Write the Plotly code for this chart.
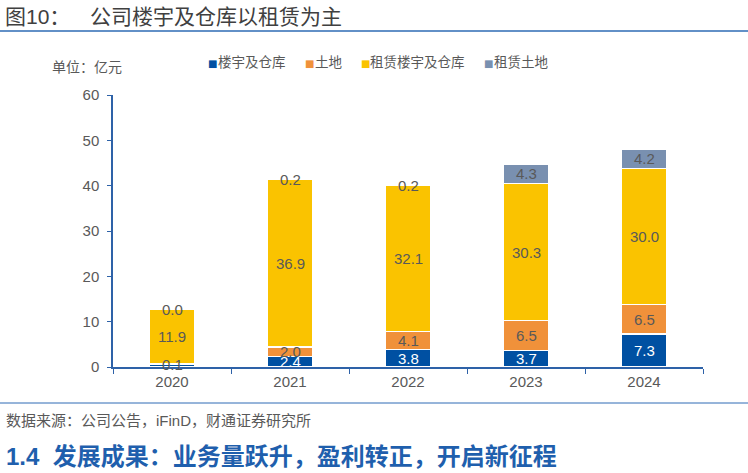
import plotly.graph_objects as go

years = ["2020", "2021", "2022", "2023", "2024"]
building = [0.6, 2.4, 3.8, 3.7, 7.3]
show_building_lbl = [False, True, True, True, True]
land = [0.1, 2.0, 4.1, 6.5, 6.5]
lease_building = [11.9, 36.9, 32.1, 30.3, 30.0]
lease_land = [0.0, 0.2, 0.2, 4.3, 4.2]

names = ["楼宇及仓库", "土地", "租赁楼宇及仓库", "租赁土地"]
colors = ["#0050A2", "#F0913A", "#FAC300", "#7990B0"]
series = [building, land, lease_building, lease_land]
show_lbl = [show_building_lbl, [True] * 5, [True] * 5, [True] * 5]
txtcolors = ["#FFFFFF", "#595959", "#595959", "#595959"]

FONT = "Liberation Sans, Arial, Noto Sans CJK SC"

fig = go.Figure()
for n, c, s in zip(names, colors, series):
    fig.add_trace(go.Bar(
        x=years, y=s, name=n, marker=dict(color=c, line=dict(color="white", width=1.2)),
        hoverinfo="skip", showlegend=False))

# data labels, centred on each stacked segment (x given as category index)
base = [0.0] * len(years)
for s, sl, tc in zip(series, show_lbl, txtcolors):
    for j, v in enumerate(s):
        if sl[j]:
            fig.add_annotation(x=j, y=base[j] + v / 2, xref="x", yref="y", text=f"{v:.1f}",
                               showarrow=False, font=dict(size=15, color=tc, family=FONT))
        base[j] += v

L, T, W, H = 113, 95, 590, 272
def px(x): return (x - L) / W
def py(y): return (T + H - y) / H

fig.update_layout(
    barmode="stack", bargap=0.61,
    width=748, height=473, autosize=False,
    margin=dict(l=L, r=748 - L - W, t=T, b=473 - T - H),
    paper_bgcolor="white", plot_bgcolor="white",
    font=dict(family=FONT, color="#595959", size=13),
    showlegend=False,
    xaxis=dict(type="category", range=[-0.5, len(years) - 0.5], showline=True,
               linecolor="#2E62A8", linewidth=1.5, ticks="outside",
               tickcolor="#2E62A8", ticklen=5, tickson="boundaries",
               tickfont=dict(size=15, color="#595959"), showgrid=False),
    yaxis=dict(range=[0, 60], dtick=10, showline=True, linecolor="#2E62A8", linewidth=1.5,
               ticks="outside", tickcolor="#2E62A8", ticklen=4, showgrid=False,
               ticklabelstandoff=5,
               zeroline=False, tickfont=dict(size=15, color="#595959")),
)

# legend (drawn as text)
leg_sq_x = [207, 304, 360, 483]
leg_tx_x = [216, 313, 368, 492]
for n, c, sx, tx in zip(names, colors, leg_sq_x, leg_tx_x):
    fig.add_annotation(text="■", x=px(sx - 1), y=py(64), xref="paper", yref="paper",
                       xanchor="left", yanchor="middle", showarrow=False,
                       font=dict(size=10, color=c, family="DejaVu Sans"))
    fig.add_annotation(text=n, x=px(tx), y=py(63), xref="paper", yref="paper",
                       xanchor="left", yanchor="middle", showarrow=False,
                       font=dict(size=13.5, color="#595959"))

fig.add_annotation(text="图10：", x=px(3), y=py(17), xref="paper", yref="paper",
                   xanchor="left", yanchor="middle", showarrow=False,
                   font=dict(size=21, color="#404040"))
fig.add_annotation(text="公司楼宇及仓库以租赁为主", x=px(88), y=py(17), xref="paper", yref="paper",
                   xanchor="left", yanchor="middle", showarrow=False,
                   font=dict(size=21, color="#404040"))
fig.add_annotation(text="单位：亿元", x=px(50), y=py(67), xref="paper", yref="paper",
                   xanchor="left", yanchor="middle", showarrow=False,
                   font=dict(size=14, color="#595959"))
fig.add_annotation(text="数据来源：公司公告，iFinD，财通证券研究所", x=px(4), y=py(420),
                   xref="paper", yref="paper", xanchor="left", yanchor="middle", showarrow=False,
                   font=dict(size=15, color="#595959"))
fig.add_annotation(text="<b>1.4  发展成果：业务量跃升，盈利转正，开启新征程</b>", x=px(4), y=py(456),
                   xref="paper", yref="paper", xanchor="left", yanchor="middle", showarrow=False,
                   font=dict(size=24, color="#1F5FAD"))

fig.add_shape(type="line", xref="paper", yref="paper", x0=px(0), x1=px(748), y0=py(31), y1=py(31),
              line=dict(color="#2E6BB5", width=1.5))
fig.add_shape(type="line", xref="paper", yref="paper", x0=px(0), x1=px(748), y0=py(403), y1=py(403),
              line=dict(color="#2E6BB5", width=1))

fig.write_html("out.html")
